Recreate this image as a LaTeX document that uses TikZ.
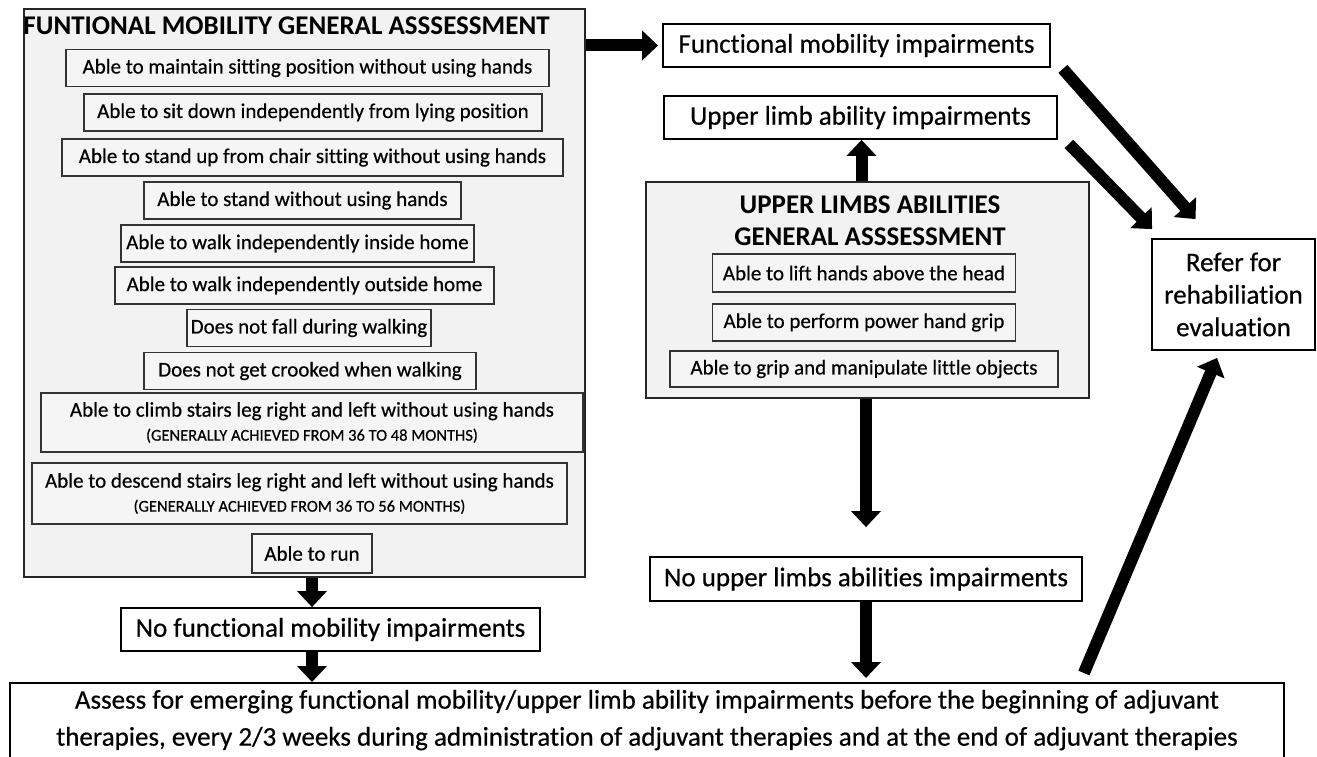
\documentclass[tikz,border=0pt]{standalone}
\usepackage{fontspec}
\setmainfont{Carlito}[Ligatures=NoCommon, RawFeature={-liga;-calt;-clig}, UprightFeatures={FakeBold=0.5}]
\usepackage{tikz}
\usetikzlibrary{arrows.meta,calc}

\tikzset{
  frame/.style={draw=black!85, line width=1.8pt, fill=black!5, inner sep=0pt},
  item/.style={draw=black!80, line width=1.5pt, fill=black!4, inner sep=0pt, align=center,
    minimum height=37pt, font=\fontsize{21}{24}\selectfont},
  result/.style={draw=black, line width=1.8pt, fill=white, inner sep=0pt, align=center,
    minimum height=43pt, font=\fontsize{27}{32}\selectfont},
  heading/.style={inner sep=0pt, align=center, font=\bfseries\fontsize{27}{32}\selectfont},
  fat/.style={line width=12pt, -{Triangle[width=29pt,length=16pt]}},
}
\newcommand{\agenote}{\fontsize{16.5}{22}\selectfont}

\begin{document}
\begin{tikzpicture}[x=1pt, y=-1pt]
    \useasboundingbox (0,0) rectangle (1317,757);
    % functional mobility assessment
    \node [frame, minimum width=561pt, minimum height=568pt] (mob) at (304.5,293) {};
    \node [heading] (mobttl) at (286.5,26) {FUNTIONAL MOBILITY GENERAL ASSSESSMENT};
    \node [item, minimum width=483pt] (sit) at (307.5,68) {Able to maintain sitting position without using hands};
    \node [item, minimum width=458pt] (sitdown) at (313,112.5) {Able to sit down independently from lying position};
    \node [item, minimum width=501pt] (standup) at (312.5,157.5) {Able to stand up from chair sitting without using hands};
    \node [item, minimum width=317pt] (stand) at (302.5,200.5) {Able to stand without using hands};
    \node [item, minimum width=353pt] (walkin) at (297.5,243.5) {Able to walk independently inside home};
    \node [item, minimum width=379pt] (walkout) at (304.5,285.5) {Able to walk independently outside home};
    \node [item, minimum width=244pt] (nofall) at (309,328) {Does not fall during walking};
    \node [item, minimum width=332pt] (crooked) at (310,371) {Does not get crooked when walking};
    \node [item, minimum width=542pt, minimum height=59pt] (climb) at (312,422.5)
        {Able to climb stairs leg right and left without using hands\\{\agenote (GENERALLY ACHIEVED FROM 36 TO 48 MONTHS)}};
    \node [item, minimum width=535pt, minimum height=61pt] (descend) at (299.5,493.5)
        {Able to descend stairs leg right and left without using hands\\{\agenote (GENERALLY ACHIEVED FROM 36 TO 56 MONTHS)}};
    \node [item, minimum width=120pt, minimum height=39pt] (run) at (312,553.5) {Able to run};

    % upper limbs assessment
    \node [frame, minimum width=443pt, minimum height=216pt] (limb) at (867.5,290) {};
    \node [heading] (limbttl) at (870,221) {UPPER LIMBS ABILITIES\\GENERAL ASSSESSMENT};
    \node [item, minimum width=303pt, minimum height=38pt] (lift) at (864,273) {Able to lift hands above the head};
    \node [item, minimum width=303pt] (grip) at (864,322.5) {Able to perform power hand grip};
    \node [item, minimum width=388pt, minimum height=36pt] (little) at (864,369) {Able to grip and manipulate little objects};

    % outcomes
    \node [result, minimum width=387pt] (fmi) at (856.5,45.5) {Functional mobility impairments};
    \node [result, minimum width=393pt] (uli) at (860.5,117.5) {Upper limb ability impairments};
    \node [result, minimum width=432pt, minimum height=44pt] (nou) at (866,579) {No upper limbs abilities impairments};
    \node [result, minimum width=419pt] (nfm) at (330.5,629.5) {No functional mobility impairments};
    \node [result, minimum width=163pt, minimum height=111pt, font=\fontsize{27}{32.5}\selectfont] (refer) at (1233.5,294.5)
        {Refer for\\rehabiliation\\evaluation};
    \node [result, anchor=north, minimum width=1274pt, inner ysep=7pt, text depth=20pt,
        font=\fontsize{27}{37}\selectfont] (assess) at (647,682)
        {Assess for emerging functional mobility/upper limb ability impairments before the beginning of adjuvant\\
         therapies, every 2/3 weeks during administration of adjuvant therapies and at the end of adjuvant therapies};

    % arrows
    \draw [fat] (fmi.west -| mob.east) -- ([xshift=-4pt]fmi.west);
    \draw [fat] ([xshift=-6pt]limb.north) -- ([xshift=-6pt]limb.north |- uli.south);
    \draw [fat] (limb.south -| nou.north) -- ([yshift=29pt]nou.north);
    \draw [fat] (nou.south) -- ([yshift=4pt]nou.south |- assess.north);
    \draw [fat] (mob.south -| run.south) -- (nfm.north -| run.south);
    \draw [fat] (nfm.south -| run.south) -- (assess.north -| run.south);
    \draw [fat] ($(fmi.south east)+(12,1)$) -- ($(refer.north)+(-38,-19)$);
    \draw [fat] ($(uli.south east)+(11,4)$) -- ($(refer.north west)+(1,-9)$);
    \draw [fat] ($(assess.north east)+(-201,-9)$) -- ($(refer.south)+(-16.5,7)$);
\end{tikzpicture}
\end{document}
